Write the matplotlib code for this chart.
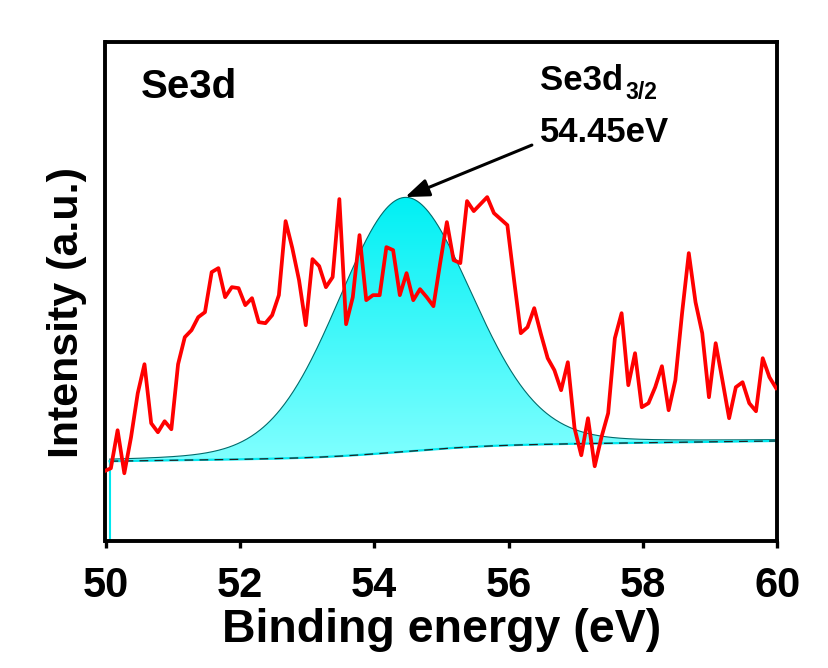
import numpy as np
import matplotlib
matplotlib.use("Agg")
from matplotlib import pyplot as plt
from matplotlib.path import Path
from matplotlib.patches import PathPatch
from matplotlib.colors import LinearSegmentedColormap

# Se3d XPS spectrum, raw counts (a.u.) on a 0.1 eV step starting at 49.98 eV
e_start = 49.98
e_step = 0.1
raw_counts = [70, 73, 111, 68, 104, 148, 177, 118, 109, 120,
              112, 177, 204, 211, 224, 229, 269, 273, 244, 254,
              253, 236, 243, 219, 218, 226, 246, 320, 293, 261,
              216, 282, 275, 254, 264, 342, 217, 244, 306, 241,
              246, 246, 294, 291, 246, 268, 241, 252, 244, 235,
              278, 319, 281, 278, 340, 330, 337, 344, 328, 322,
              316, 261, 208, 214, 233, 207, 183, 171, 151, 179,
              113, 86, 123, 75, 104, 128, 203, 228, 156, 188,
              134, 138, 154, 175, 131, 161, 228, 288, 239, 208,
              144, 198, 161, 123, 154, 159, 138, 130, 183, 164,
              153]
energy = e_start + e_step * np.arange(len(raw_counts))

# fitted Se3d3/2 component (pseudo-voigt) + shirley-ish background
peak_center = 54.45
peak_fwhm = 2.35
peak_eta = 0.12
peak_height = 254
bg_start = 80        # background at 50 eV
bg_slope = 0.87      # per eV
bg_step = 11.6       # shirley step across the peak
fit_start = 50.06
fit_end = 60.0

fit_e = np.linspace(fit_start, fit_end, 600)
d = (fit_e - peak_center) / peak_fwhm
peak = peak_height * ((1 - peak_eta) * np.exp(-4 * np.log(2) * d**2) + peak_eta / (1 + 4 * d**2))
frac = np.cumsum(peak) / peak.sum()
bg = bg_start + bg_slope * (fit_e - 50) + bg_step * frac
envelope = bg + peak

plt.rcParams['font.family'] = ['Liberation Sans', 'DejaVu Sans']
plt.rcParams['font.weight'] = 'bold'

fig = plt.figure(figsize=(8.29, 6.68), dpi=100)
ax = fig.add_axes([105.5 / 829, 1 - 541.3 / 668, (777.5 - 105.5) / 829, (541.3 - 42) / 668])

# gradient filled peak area, clipped to the region between envelope and background
verts = np.vstack([np.column_stack([fit_e, envelope]), np.column_stack([fit_e[::-1], bg[::-1]])])
clip = PathPatch(Path(verts, closed=True), facecolor='none', edgecolor='none')
ax.add_patch(clip)
cmap = LinearSegmentedColormap.from_list('cy', ['#00F0F4', '#80FFFF'])
grad = np.linspace(0, 1, 256).reshape(-1, 1)
im = ax.imshow(grad, cmap=cmap, aspect='auto', origin='upper',
               extent=[fit_start, fit_end, bg.min(), envelope.max()], zorder=1)
im.set_clip_path(clip)

ax.plot(fit_e, envelope, color='#006b6b', lw=0.8, zorder=2)
ax.plot(fit_e, bg, color='#00e8f0', lw=1.6, zorder=2)
ax.plot(fit_e, bg, color='#202020', lw=0.9, dashes=(7, 5), zorder=2)
ax.plot([fit_start, fit_start], [0, bg[0]], color='#00e8f0', lw=1.5, zorder=2)

ax.plot(energy, raw_counts, color='#ff0000', lw=2.7, zorder=3)

ax.set_xlim(50, 60)
ax.set_ylim(0, 499)
ax.set_xticks([50, 52, 54, 56, 58, 60])
ax.set_yticks([])
ax.tick_params(axis='x', direction='out', length=5, width=2.4, labelsize=30, pad=13)
for s in ax.spines.values():
    s.set_linewidth(2.8)

ax.set_xlabel('Binding energy (eV)', fontsize=33.5, fontweight='bold', labelpad=1)
ax.set_ylabel('Intensity (a.u.)', fontsize=31, fontweight='bold')
ax.yaxis.set_label_coords(-0.028, 0.459)

ax.text(50.525, 443, 'Se3d', fontsize=29, fontweight='bold', ha='left', va='baseline')
ax.text(56.465, 451, 'Se3d', fontsize=25, fontweight='bold', ha='left', va='baseline')
ax.text(57.73, 442, '3/2', fontsize=16.5, fontweight='bold', ha='left', va='baseline')
ax.text(56.465, 399, '54.45eV', fontsize=25, fontweight='bold', ha='left', va='baseline')
ax.annotate('', xy=(54.46, 344), xytext=(56.345, 396),
            arrowprops=dict(arrowstyle='-|>,head_length=0.8,head_width=0.3', mutation_scale=18,
                            lw=2.2, color='k', shrinkA=0, shrinkB=0))

fig.savefig('out.png', dpi=100)
